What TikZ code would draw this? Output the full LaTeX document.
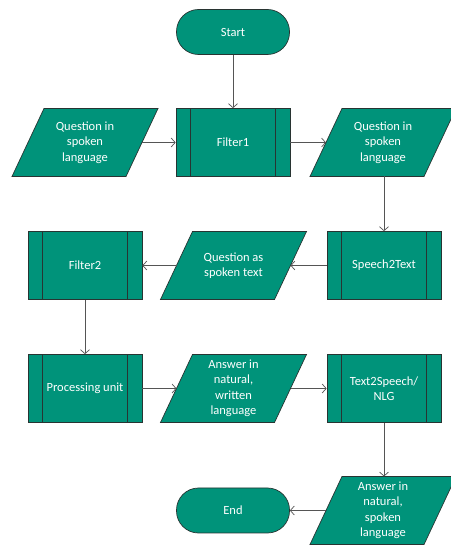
\documentclass[tikz,border=0pt]{standalone}
\usepackage{fontspec}
\setmainfont{Carlito}
\usetikzlibrary{arrows.meta}
\definecolor{teal1}{RGB}{0,147,122}
\definecolor{edge1}{RGB}{40,52,50}
\definecolor{arrc}{RGB}{85,85,85}
\newcommand{\parashape}[2]{\draw[io] (#1-73,#2-34) -- (#1+41,#2-34) -- (#1+73,#2+34) -- (#1-41,#2+34) -- cycle;}
\tikzset{
  every node/.style={font=\fontsize{12.5}{15.5}\selectfont, text=white, align=center},
  io/.style={fill=teal1, draw=edge1, line width=0.7pt},
  iotext/.style={inner sep=0pt},
  proc/.style={rectangle, fill=teal1, draw=edge1, line width=0.7pt, minimum width=114pt, minimum height=68pt,
    path picture={
      \draw[edge1, line width=0.9pt] ([xshift=14.5pt]path picture bounding box.north west) -- ([xshift=14.5pt]path picture bounding box.south west);
      \draw[edge1, line width=0.9pt] ([xshift=-14.5pt]path picture bounding box.north east) -- ([xshift=-14.5pt]path picture bounding box.south east);
    }},
  term/.style={rectangle, rounded corners=22pt, fill=teal1, draw=edge1, line width=0.7pt, minimum width=113pt, minimum height=45pt},
  arr/.style={draw=arrc, line width=0.7pt, -{Straight Barb[length=4pt,width=9pt]}}
}
\begin{document}
\begin{tikzpicture}[x=1pt,y=1pt]
\useasboundingbox (0,0) rectangle (450,546);
% terminals
\node[term] (start) at (233,514) {Start};
\node[term] (end) at (233,35.5) {End};
% process boxes
\node[proc] (f1) at (233,403.5) {Filter1};
\node[proc] (s2t) at (384,280.5) {Speech2Text};
\node[proc] (f2) at (85,280.5) {Filter2};
\node[proc] (pu) at (85,157.5) {Processing unit};
\node[proc] (t2s) at (384,157.5) {Text2Speech/\\NLG};
% data shapes
\parashape{85}{403.5}
\node[iotext] (p1) at (85,403.5) {Question in\\spoken\\language};
\coordinate (p1e) at (142,403.5);
\parashape{383}{403.5}
\node[iotext] (p2) at (383,403.5) {Question in\\spoken\\language};
\coordinate (p2w) at (326,403.5);
\coordinate (p2s) at (384,369.5);
\parashape{233.5}{280.5}
\node[iotext] (pm) at (233.5,280.5) {Question as\\spoken text};
\coordinate (pme) at (290.5,280.5);
\coordinate (pmw) at (176.5,280.5);
\parashape{233.5}{157.5}
\node[iotext] (pa) at (233.5,157.5) {Answer in\\natural,\\written\\language};
\coordinate (pae) at (290.5,157.5);
\coordinate (paw) at (176.5,157.5);
\parashape{383}{35.5}
\node[iotext] (p4) at (383,35.5) {Answer in\\natural,\\spoken\\language};
\coordinate (p4n) at (384,69.5);
\coordinate (p4w) at (326,35.5);
% connectors
\draw[arr] (start) -- (f1);
\draw[arr] (p1e) -- (f1);
\draw[arr] (f1) -- (p2w);
\draw[arr] (p2s) -- (s2t);
\draw[arr] (s2t) -- (pme);
\draw[arr] (pmw) -- (f2);
\draw[arr] (f2) -- (pu);
\draw[arr] (pu) -- (paw);
\draw[arr] (pae) -- (t2s);
\draw[arr] (t2s) -- (p4n);
\draw[arr] (p4w) -- (end);
\end{tikzpicture}
\end{document}
